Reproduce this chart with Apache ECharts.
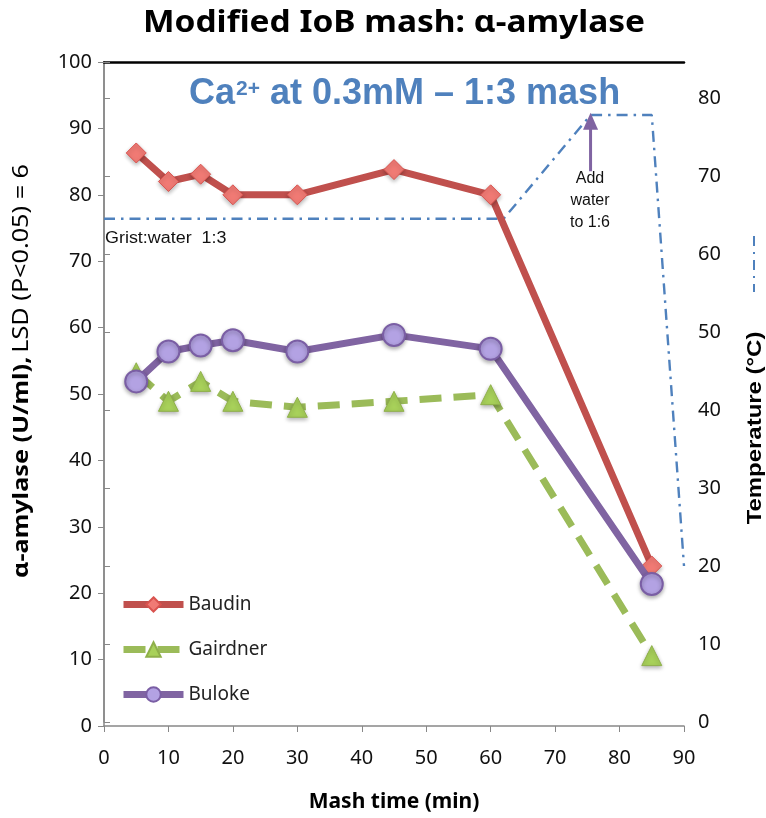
<!DOCTYPE html>
<html>
<head>
<meta charset="utf-8">
<script src="https://cdn.jsdelivr.net/npm/echarts@6/dist/echarts.min.js"></script>
<style>
  html, body { margin: 0; padding: 0; background: #fff; }
  #chart { width: 766px; height: 818px; }
</style>
</head>
<body>
<div id="chart"></div>
<script>
// mash time (min) at which samples were taken
const mashTimes = [5, 10, 15, 20, 30, 45, 60, 85]
const baudin = [86.3, 82.0, 83.1, 80.0, 80.0, 83.8, 80.0, 24.1]
const gairdner = [53.2, 48.9, 51.9, 48.9, 48.0, 48.9, 49.9, 10.6]
const buloke = [51.9, 56.4, 57.3, 58.1, 56.4, 58.9, 56.8, 21.4]

// temperature profile (dash-dot), right axis
const tempTimes = [0, 62, 75.5, 85, 90]
const tempValues = [64.5, 64.5, 77.8, 77.8, 20]

// "add water" arrow
const arrowTimes = [75.5, 75.5]
const arrowTemps = [70.6, 77.0]

const labelFont = '"Noto Sans", sans-serif'
const arial = '"Liberation Sans", Arial, sans-serif'
const blue = '#4f81bd'

const pairs = (xs, ys) => xs.map((x, i) => [x, ys[i]])

const chart = echarts.init(document.getElementById('chart'))

const option = {
  animation: false,
  grid: [
    { left: 104, right: 82, top: 62, bottom: 91 },
    { left: 104, right: 82, top: 62, bottom: 96 }
  ],
  legend: {
    orient: 'vertical',
    left: 115,
    top: 590,
    itemWidth: 60,
    itemHeight: 18,
    itemGap: 26,
    lineStyle: { width: 7 },
    textStyle: { fontFamily: labelFont, fontSize: 19, color: '#222' },
    data: ['Baudin', 'Gairdner', 'Buloke']
  },
  xAxis: [
    {
      type: 'value', gridIndex: 0, min: 0, max: 90, interval: 10,
      name: 'Mash time (min)', nameLocation: 'middle', nameGap: 66,
      nameTextStyle: { fontFamily: labelFont, fontWeight: 'bold', fontSize: 21, color: '#000' },
      axisLine: { lineStyle: { color: '#888', width: 1.5 } },
      axisTick: { show: true, length: 6, lineStyle: { color: '#888' } },
      axisLabel: { fontFamily: labelFont, fontSize: 20, color: '#111', margin: 22 },
      splitLine: { show: false }
    },
    {
      type: 'value', gridIndex: 0, position: 'top', min: 0, max: 90,
      axisLine: { show: true, lineStyle: { color: '#000', width: 2.5 } },
      axisTick: { show: false }, axisLabel: { show: false }, splitLine: { show: false }
    },
    {
      type: 'value', gridIndex: 1, min: 0, max: 90, show: false
    }
  ],
  yAxis: [
    {
      type: 'value', gridIndex: 0, min: 0, max: 100, interval: 10,
      axisLine: { show: true, lineStyle: { color: '#888', width: 1.5 } },
      axisTick: { show: true, inside: false, length: 6, lineStyle: { color: '#888' } },
      axisLabel: { fontFamily: labelFont, fontSize: 20, color: '#111', margin: 12 },
      splitLine: { show: false }
    },
    {
      type: 'value', gridIndex: 1, position: 'right', min: 0, max: 84.6, interval: 10,
      axisLine: { show: true, lineStyle: { color: '#888', width: 1.5 } },
      axisTick: { show: true, length: 6, lineStyle: { color: '#888' } },
      axisLabel: {
        fontFamily: labelFont, fontSize: 20, color: '#111', margin: 14,
        formatter: v => (v % 10 === 0 ? String(v) : '')
      },
      splitLine: { show: false }
    }
  ],
  graphic: [
    {
      // chart title
      type: 'text', x: 394, y: 23, scaleX: 1.08,
      style: {
        text: 'Modified IoB mash: α-amylase', font: 'bold 31px ' + labelFont,
        fill: '#000', align: 'center', verticalAlign: 'middle'
      }
    },
    {
      type: 'text', left: 189, top: 74,
      style: {
        text: '{m|Ca}{s|2+}{m| at 0.3mM – 1:3 mash}',
        rich: {
          m: { fontFamily: arial, fontWeight: 'bold', fontSize: 36, fill: blue, lineHeight: 40 },
          s: { fontFamily: arial, fontWeight: 'bold', fontSize: 21, fill: blue, lineHeight: 21, verticalAlign: 'top', padding: [5, 0, 0, 1] }
        }
      }
    },
    {
      // left axis title
      type: 'text', x: 22, y: 371, rotation: Math.PI / 2, scaleX: 1.2,
      style: {
        text: '{b|α-amylase (U/ml),} {n|LSD (P<0.05) = 6}',
        align: 'center', verticalAlign: 'middle',
        rich: {
          b: { fontFamily: labelFont, fontWeight: 'bold', fontSize: 21, fill: '#000' },
          n: { fontFamily: labelFont, fontSize: 21, fill: '#000' }
        }
      }
    },
    {
      // right axis title
      type: 'text', x: 755, y: 428, rotation: Math.PI / 2, scaleX: 1.14,
      style: {
        text: 'Temperature (°C)', font: 'bold 21px ' + arial,
        fill: '#000', align: 'center', verticalAlign: 'middle'
      }
    },
    {
      type: 'text', left: 105, top: 231, scaleX: 1.12,
      style: { text: 'Grist:water  1:3', font: '16px ' + arial, fill: '#111' }
    },
    {
      type: 'text', x: 590, y: 168,
      style: {
        text: 'Add\nwater\nto 1:6', font: '16px ' + arial,
        fill: '#111', align: 'center', lineHeight: 22
      }
    },
    {
      type: 'line',
      shape: { x1: 754, y1: 236, x2: 754, y2: 292 },
      style: { stroke: blue, lineWidth: 2, lineDash: [10, 6, 2, 6] }
    }
  ],
  series: [
    {
      name: 'Temperature', type: 'line', xAxisIndex: 2, yAxisIndex: 1,
      data: pairs(tempTimes, tempValues), showSymbol: false, symbol: 'none',
      lineStyle: { color: blue, width: 2.4, type: [11, 6, 2.5, 6] },
      z: 1
    },
    {
      name: 'arrow', type: 'line', xAxisIndex: 2, yAxisIndex: 1,
      data: pairs(arrowTimes, arrowTemps).map((p, i) => i === 0
        ? { value: p, symbol: 'none' }
        : { value: p, symbol: 'triangle', symbolSize: [15, 17] }),
      lineStyle: { color: '#8064a2', width: 3 },
      itemStyle: { color: '#8064a2' },
      z: 2
    },
    {
      name: 'Baudin', type: 'line', xAxisIndex: 0, yAxisIndex: 0,
      data: pairs(mashTimes, baudin),
      symbol: 'diamond', symbolSize: 20,
      lineStyle: { color: '#c0504d', width: 7 },
      itemStyle: { color: '#f07a74', borderColor: '#d9534f', borderWidth: 1, shadowBlur: 4, shadowColor: 'rgba(0,0,0,0.3)', shadowOffsetY: 2 },
      z: 4
    },
    {
      name: 'Gairdner', type: 'line', xAxisIndex: 0, yAxisIndex: 0,
      data: pairs(mashTimes, gairdner),
      symbol: 'triangle', symbolSize: 20,
      lineStyle: { color: '#9bbb59', width: 7, type: [22, 12] },
      itemStyle: { color: '#a8d15a', borderColor: '#8fb04a', borderWidth: 1, shadowBlur: 4, shadowColor: 'rgba(0,0,0,0.3)', shadowOffsetY: 2 },
      z: 3
    },
    {
      name: 'Buloke', type: 'line', xAxisIndex: 0, yAxisIndex: 0,
      data: pairs(mashTimes, buloke),
      symbol: 'circle', symbolSize: 22,
      lineStyle: { color: '#8064a2', width: 7 },
      itemStyle: { color: '#b3a2e3', borderColor: '#7a5ea4', borderWidth: 2, shadowBlur: 4, shadowColor: 'rgba(0,0,0,0.3)', shadowOffsetY: 2 },
      z: 5
    }
  ]
}

chart.setOption(option)
</script>
</body>
</html>
